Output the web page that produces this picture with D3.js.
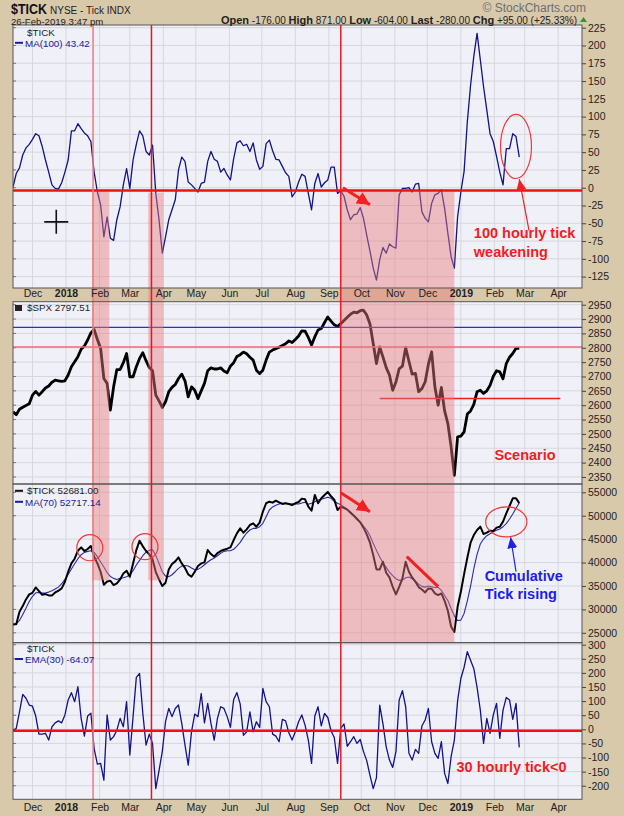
<!DOCTYPE html>
<html>
<head>
<meta charset="utf-8">
<script src="https://cdn.jsdelivr.net/npm/d3@7"></script>
<style>
  body { margin: 0; background: #d9c9ab; }
  svg { display: block; font-family: "Liberation Sans", Arial, sans-serif; }
</style>
</head>
<body>
<div id="chart"></div>
<script>
// Page size
var W = 624, H = 816;

// One sample every 3 calendar days, starting here.
var startDate = "2017-11-13",
    stepDays = 3;

// $TICK, 100 hour moving average
var tickMA100 = [1, 20, 28, 46, 56, 61, 68, 76, 73, 58, 39, 22, 4, -1, -2, 7, 22, 39, 80, 80,
  90, 83, 77, 73, 65, 22, -6, -24, -69, -41, -71, -74, -45, -27, 4, 27, -1, 39, 61, 80,
  73, 51, 46, 60, -8, -45, -92, -69, -45, -31, -17, 25, 43, 37, 8, 4, -1, -6, 6, 8,
  37, 51, 40, 37, 22, 27, 18, 11, 41, 63, 66, 59, 61, 51, 63, 39, 26, 30, 62, 67,
  52, 40, 39, 30, 21, 16, -13, -6, 8, 19, 16, -8, -31, 6, 20, 1, 7, 11, 29, 29,
  -8, -4, -12, -31, -45, -38, -37, -28, -43, -67, -89, -113, -130, -101, -84, -92, -79, -83, -85, -10,
  -1, -1, 0, -6, 5, 6, -34, -43, -48, -22, -10, -8, -3, -29, -64, -97, -113, -41, -6, 23,
  93, 144, 185, 217, 180, 142, 109, 76, 65, 44, 22, 4, 55, 55, 76, 72, 43];

// S&P 500 hourly closes
var spx = [2577, 2567, 2586, 2593, 2599, 2605, 2635, 2648, 2635, 2647, 2660, 2667, 2680, 2687, 2685, 2683, 2685, 2705, 2734, 2751,
  2769, 2795, 2806, 2827, 2852, 2864, 2829, 2798, 2693, 2676, 2583, 2664, 2724, 2724, 2748, 2780, 2699, 2699, 2734, 2763,
  2783, 2755, 2731, 2720, 2635, 2615, 2592, 2612, 2647, 2662, 2672, 2693, 2708, 2685, 2629, 2664, 2652, 2623, 2650, 2676,
  2720, 2730, 2726, 2726, 2730, 2719, 2713, 2736, 2748, 2770, 2776, 2785, 2779, 2767, 2757, 2722, 2710, 2722, 2757, 2785,
  2792, 2797, 2802, 2808, 2814, 2824, 2818, 2829, 2841, 2859, 2858, 2836, 2810, 2838, 2862, 2867, 2888, 2907, 2893, 2880,
  2874, 2884, 2895, 2906, 2917, 2924, 2922, 2929, 2931, 2914, 2883, 2815, 2745, 2803, 2768, 2731, 2705, 2652, 2681, 2727,
  2736, 2801, 2753, 2708, 2711, 2647, 2658, 2681, 2743, 2786, 2664, 2600, 2662, 2580, 2536, 2455, 2356, 2490, 2492, 2507,
  2569, 2580, 2603, 2647, 2652, 2641, 2650, 2669, 2701, 2720, 2716, 2692, 2745, 2767, 2780, 2798, 2798];

// Cumulative $TICK
var cumTick = [26850, 26850, 29490, 30700, 32130, 33200, 33550, 34690, 33910, 33120, 33270, 32980, 32980, 33620, 33980, 34480, 35900, 38040, 39820, 40820,
  42530, 43240, 42460, 42890, 43530, 41250, 39820, 38040, 35260, 35970, 36120, 35190, 35550, 36400, 37680, 38250, 36970, 39820, 42670, 44670,
  43460, 42460, 41750, 40680, 37970, 36400, 34980, 35690, 38540, 39680, 40250, 41100, 39820, 38830, 37470, 36970, 38040, 39250, 39820, 40040,
  42670, 41820, 41250, 42030, 42460, 42740, 42960, 43240, 44810, 46240, 47300, 46380, 47090, 48020, 48370, 47660, 48520, 50870, 52660, 53000,
  52790, 53220, 52860, 52510, 52660, 52510, 52290, 52660, 52930, 53650, 53500, 51940, 51080, 54430, 52660, 53720, 54430, 55070, 54150, 53430,
  51220, 51940, 51650, 51300, 50650, 50010, 49300, 48590, 47450, 46020, 44240, 41600, 38540, 38540, 40180, 37830, 36830, 34830, 33200, 34830,
  36620, 40180, 38040, 36830, 35900, 34760, 34260, 33620, 34480, 34410, 33410, 33050, 33410, 31840, 29700, 26280, 25200, 30560, 33770, 37540,
  41030, 44240, 45880, 46950, 47660, 46090, 46380, 46810, 46730, 47450, 47660, 48730, 50510, 52080, 53720, 53720, 52681];

// Cumulative $TICK, 70 hour moving average
var cumTickMA70 = [26640, 26920, 27640, 28920, 30270, 31700, 32770, 33550, 33620, 33480, 33480, 33690, 33980, 34340, 34760, 35480, 36400, 37470, 38610, 39750,
  40820, 41680, 42170, 42390, 42530, 42170, 41250, 40110, 39040, 37830, 37040, 36620, 36400, 36620, 36760, 36970, 37330, 38250, 39470, 40460,
  41460, 42250, 42600, 42740, 41530, 39820, 38040, 37110, 36970, 37400, 38040, 38750, 39250, 39390, 39250, 38830, 38470, 38540, 38970, 39540,
  40110, 40610, 40960, 41460, 41960, 42390, 42530, 42530, 42820, 43530, 44310, 45380, 46310, 46950, 47300, 47300, 47660, 48370, 49800, 51220,
  51870, 52220, 52510, 52660, 52660, 52510, 52510, 52510, 52510, 52720, 52860, 52440, 52660, 53000, 53360, 53500, 53720, 53930, 53720, 53080,
  52660, 52360, 51870, 51370, 50800, 50160, 49440, 48660, 47800, 46950, 45740, 44100, 42600, 41180, 39970, 38970, 37970, 37190, 36540, 36190,
  36260, 36760, 36900, 36540, 36050, 35400, 34910, 34760, 34980, 34830, 34690, 34690, 34050, 32980, 31910, 30200, 28630, 27640, 27710, 29130,
  31840, 34980, 38680, 41750, 43960, 45020, 45740, 46160, 46590, 46880, 47160, 47660, 48300, 49300, 50370, 51580, 52717];

// $TICK, 30 hour exponential moving average
var tickEMA30 = [-3, 3, 62, 124, 110, 86, 82, 47, -17, -17, -14, -38, 9, 23, 30, 23, 51, 104, 130, 98,
  151, 39, -24, 47, 57, -68, -123, -121, -180, 51, -38, -26, -3, 39, 9, 98, -91, 45, 184, 198,
  57, -56, -17, -50, -210, -146, -79, 27, 74, 45, 74, 86, 21, -56, -127, -9, 54, 45, 127, 23,
  92, 21, -38, 39, 80, 74, 45, 7, 106, 130, 90, -21, -9, 62, -9, 27, 7, 145, 98, 80,
  -17, -24, -44, 35, 30, -12, -38, -9, 27, 51, 15, -38, -121, 47, 80, 12, 56, 42, -5, -29,
  -121, 3, 19, -60, -44, -26, -50, -36, -79, -111, -163, -210, -171, 86, 19, -62, -109, -135, -79, 104,
  137, 80, -85, -109, -71, -85, 12, 33, 74, -44, -85, -103, -44, -156, -192, -97, -38, 101, 180, 220,
  275, 245, 215, 149, 68, -50, 39, -14, 51, 92, -32, 68, 113, 104, 35, 92, -64];

// Axis tick labels
var monthTicks = ["2017-12-01", "2018-01-01", "2018-02-01", "2018-03-01", "2018-04-01", "2018-05-01",
  "2018-06-01", "2018-07-01", "2018-08-01", "2018-09-01", "2018-10-01", "2018-11-01", "2018-12-01",
  "2019-01-01", "2019-02-01", "2019-03-01", "2019-04-01"];
var monthLabels = ["Dec", "2018", "Feb", "Mar", "Apr", "May", "Jun", "Jul", "Aug", "Sep", "Oct", "Nov", "Dec",
  "2019", "Feb", "Mar", "Apr"];
var tickMATicks = [-125, -100, -75, -50, -25, 0, 25, 50, 75, 100, 125, 150, 175, 200, 225];
var spxTicks = [2350, 2400, 2450, 2500, 2550, 2600, 2650, 2700, 2750, 2800, 2850, 2900, 2950];
var cumTickTicks = [25000, 30000, 35000, 40000, 45000, 50000, 55000];
var emaTicks = [-200, -150, -100, -50, 0, 50, 100, 150, 200, 250, 300];

// Shaded periods and marker lines
var shadeSpans = [["2018-01-25", "2018-02-10"], ["2018-03-18", "2018-04-01"], ["2018-09-11", "2018-12-26"]];
var markerDates = [["2018-01-26", "#f07a7a"], ["2018-03-21", "#e8141e"], ["2018-09-12", "#ee1c24"]];

var parse = d3.timeParse("%Y-%m-%d");
var dates = tickMA100.map(function (d, i) {
  return d3.timeDay.offset(parse(startDate), i * stepDays);
});

var svg = d3.select("#chart").append("svg")
  .attr("width", W)
  .attr("height", H);

svg.append("rect").attr("width", W).attr("height", H).attr("fill", "#d9c9ab");

var defs = svg.append("defs");

function marker(id, color, len, half) {
  defs.append("marker")
    .attr("id", id)
    .attr("markerUnits", "userSpaceOnUse")
    .attr("viewBox", "0 0 " + len + " " + (half * 2))
    .attr("refX", len).attr("refY", half)
    .attr("markerWidth", len).attr("markerHeight", half * 2)
    .attr("orient", "auto")
    .append("path")
    .attr("d", "M0,0L" + len + "," + half + "L0," + (half * 2) + "Z")
    .attr("fill", color);
}
marker("headRed", "#f22020", 13, 6.5);
marker("headRedThin", "#f22020", 11, 5);
marker("headBlue", "#2020e8", 11, 5);

var left = 13, right = 582;
var x = d3.scaleTime()
  .domain([parse("2017-11-13"), parse("2019-04-23")])
  .range([left, right]);

// Panel frames: pixel extents and value ranges
var panels = [
  { top: 25, bottom: 288, domain: [-141, 228.8], ticks: tickMATicks },
  { top: 301.7, bottom: 484, domain: [2325.5, 2960.5], ticks: spxTicks },
  { top: 484, bottom: 642.7, domain: [22890, 56772], ticks: cumTickTicks },
  { top: 642.7, bottom: 799.3, domain: [-248, 307], ticks: emaTicks }
];
panels.forEach(function (p, k) {
  p.y = d3.scaleLinear().domain(p.domain).range([p.bottom, p.top]);
  defs.append("clipPath").attr("id", "clip" + k)
    .append("rect").attr("x", left).attr("y", p.top)
    .attr("width", right - left).attr("height", p.bottom - p.top);
});

var monthDates = monthTicks.map(parse);

// Backgrounds and grids
panels.forEach(function (p, k) {
  var g = svg.append("g");
  g.append("rect").attr("x", left).attr("y", p.top)
    .attr("width", right - left).attr("height", p.bottom - p.top)
    .attr("fill", "#f0f0f8");
  g.selectAll("line.h").data(p.ticks).enter().append("line")
    .attr("x1", left).attr("x2", right)
    .attr("y1", function (d) { return p.y(d); })
    .attr("y2", function (d) { return p.y(d); })
    .attr("stroke", "#d6d6dc").attr("stroke-width", 1);
  g.selectAll("line.v").data(monthDates).enter().append("line")
    .attr("x1", function (d) { return x(d); })
    .attr("x2", function (d) { return x(d); })
    .attr("y1", p.top).attr("y2", p.bottom)
    .attr("stroke", "#d6d6dc").attr("stroke-width", 1);
  // little ticks on the left edge
  g.selectAll("line.l").data(p.ticks).enter().append("line")
    .attr("x1", left).attr("x2", left + 3)
    .attr("y1", function (d) { return p.y(d); })
    .attr("y2", function (d) { return p.y(d); })
    .attr("stroke", "#777");
});

function drawLine(k, values, color, width) {
  var p = panels[k];
  var line = d3.line()
    .x(function (d, i) { return x(dates[i]); })
    .y(function (d) { return p.y(d); })
    .curve(d3.curveLinear);
  svg.append("path")
    .datum(values)
    .attr("clip-path", "url(#clip" + k + ")")
    .attr("d", line)
    .attr("fill", "none")
    .attr("stroke", color)
    .attr("stroke-width", width)
    .attr("stroke-linejoin", "round");
}

drawLine(0, tickMA100, "#12128a", 1.3);
drawLine(1, spx, "#000", 2.8);
drawLine(2, cumTickMA70, "#2a2aa6", 1.1);
drawLine(2, cumTick, "#000", 2);
drawLine(3, tickEMA30, "#12128a", 1.3);

// Horizontal reference lines
function hline(k, v, color, width, from, to) {
  var p = panels[k];
  svg.append("line")
    .attr("x1", from ? x(parse(from)) : left)
    .attr("x2", to ? x(parse(to)) : right)
    .attr("y1", p.y(v)).attr("y2", p.y(v))
    .attr("stroke", color).attr("stroke-width", width);
}
hline(1, 2871, "#2c2cd0", 1.2);
hline(1, 2803, "#f06a78", 1.5);
hline(1, 2623, "#f01c1c", 1.5, "2018-10-18", "2019-04-03");

// Shaded periods (drawn over the data, semi transparent)
var shadeTop = [
  [panels[0].y(-2), panels[0].y(-7), panels[0].y(-5)],
  [288, 288, 288],
  [484, 484, 484]
];
var shadeBottom = [
  [288, 288, 288],
  [484, 484, 484],
  [panels[2].y(36200), panels[2].y(36200), 642.7]
];
shadeSpans.forEach(function (s, j) {
  for (var k = 0; k < 3; k++) {
    svg.append("rect")
      .attr("x", x(parse(s[0])))
      .attr("width", x(parse(s[1])) - x(parse(s[0])))
      .attr("y", shadeTop[k][j])
      .attr("height", shadeBottom[k][j] - shadeTop[k][j])
      .attr("fill", "#e67c7c")
      .attr("opacity", 0.45);
  }
});

hline(0, -4, "#f01010", 2.5);
hline(3, -5, "#f01010", 2.5);

// Vertical marker lines
markerDates.forEach(function (m) {
  svg.append("line")
    .attr("x1", x(parse(m[0]))).attr("x2", x(parse(m[0])))
    .attr("y1", 25).attr("y2", 799.3)
    .attr("stroke", m[1]).attr("stroke-width", 1.5);
});

// Panel borders
panels.forEach(function (p) {
  svg.append("rect").attr("x", left).attr("y", p.top)
    .attr("width", right - left).attr("height", p.bottom - p.top)
    .attr("fill", "none").attr("stroke", "#555").attr("stroke-width", 1);
});

// Right value axes
panels.forEach(function (p, k) {
  var ax = svg.append("g")
    .attr("transform", "translate(" + right + ",0)")
    .call(d3.axisRight(p.y).tickValues(p.ticks).tickSize(4).tickPadding(2)
      .tickFormat(function (d) { return String(d); }));
  ax.select(".domain").remove();
  ax.selectAll("text").attr("font-size", 10.5).attr("fill", "#222")
    .attr("font-family", "'Liberation Sans', Arial, sans-serif");
  ax.selectAll("line").attr("stroke", "#444");
});

// Month axes (between panel 1 and 2, and at the bottom)
function monthAxis(yPos, pad) {
  var ax = svg.append("g")
    .attr("transform", "translate(0," + yPos + ")")
    .call(d3.axisBottom(x).tickValues(monthDates).tickSize(0).tickPadding(pad)
      .tickFormat(function (d, i) { return monthLabels[i]; }));
  ax.select(".domain").remove();
  ax.selectAll("text")
    .attr("font-size", 10.5).attr("fill", "#222")
    .attr("font-family", "'Liberation Sans', Arial, sans-serif")
    .attr("font-weight", function (d, i) { return /^\d/.test(monthLabels[i]) ? "bold" : "normal"; });
}
monthAxis(288, 2);
monthAxis(799.3, 4.5);

// Header
svg.append("text").attr("x", 11).attr("y", 14)
  .attr("font-size", 14).attr("font-weight", "bold").attr("fill", "#111")
  .attr("textLength", 36).attr("lengthAdjust", "spacingAndGlyphs").text("$TICK");
svg.append("text").attr("x", 50).attr("y", 13.5)
  .attr("font-size", 10).attr("fill", "#222").text("NYSE - Tick INDX");
svg.append("text").attr("x", 586).attr("y", 11.5).attr("text-anchor", "end")
  .attr("font-size", 12).attr("fill", "#6e6e6e").text("\u00a9 StockCharts.com");
svg.append("text").attr("x", 11).attr("y", 24.5)
  .attr("font-size", 9.6).attr("fill", "#222").text("26-Feb-2019 3:47 pm");

var quote = [["Open", " -176.00  "], ["High", " 871.00  "], ["Low", " -604.00  "],
  ["Last", " -280.00  "], ["Chg", " +95.00 (+25.33%)"]];
var qt = svg.append("text").attr("x", 577).attr("y", 24).attr("text-anchor", "end")
  .attr("font-size", 10).attr("fill", "#222");
quote.forEach(function (q) {
  qt.append("tspan").attr("font-weight", "bold").attr("font-size", 11).text(q[0]);
  qt.append("tspan").text(q[1]);
});
svg.append("path").attr("d", "M580,22L583.5,17L587,22Z").attr("fill", "#2e9a2e");

// Legends
function legendText(xp, yp, txt, color) {
  svg.append("text").attr("x", xp).attr("y", yp)
    .attr("font-size", 9.8).attr("fill", color).text(txt);
}
function legendDash(yp, color) {
  svg.append("line").attr("x1", 15).attr("x2", 23).attr("y1", yp).attr("y2", yp)
    .attr("stroke", color).attr("stroke-width", 2);
}
legendText(27, 35.5, "$TICK", "#222");
legendDash(42.8, "#1a1a9a");
legendText(25, 46.5, "MA(100) 43.42", "#1a1a9a");

svg.append("rect").attr("x", 15).attr("y", 305).attr("width", 7).attr("height", 6).attr("fill", "#222");
legendText(27, 311, "$SPX 2797.51", "#222");

legendDash(490.8, "#111");
legendText(27, 494, "$TICK 52681.00", "#222");
legendDash(501.8, "#1a1a9a");
legendText(25, 505.5, "MA(70) 52717.14", "#1a1a9a");

legendText(27, 652, "$TICK", "#222");
legendDash(659, "#1a1a9a");
legendText(25, 663, "EMA(30) -64.07", "#1a1a9a");

// Annotations, placed in data coordinates
var arrowNotes = [
  { panel: 0, from: ["2018-09-14", 0], to: ["2018-10-09", -24], color: "#f22020", width: 3, head: "headRed" },
  { panel: 0, from: ["2019-03-05", -60], to: ["2019-02-24", 12], color: "#f22020", width: 1.2, head: "headRedThin" },
  { panel: 2, from: ["2018-09-12", 54900], to: ["2018-10-09", 50860], color: "#f22020", width: 3, head: "headRed" },
  { panel: 2, from: ["2018-11-12", 41250], to: ["2018-12-11", 34850], color: "#f22020", width: 3, head: null },
  { panel: 2, from: ["2019-02-21", 38050], to: ["2019-02-16", 45400], color: "#2020e8", width: 1.2, head: "headBlue" }
];
arrowNotes.forEach(function (a) {
  var p = panels[a.panel];
  var ln = svg.append("line")
    .attr("x1", x(parse(a.from[0]))).attr("y1", p.y(a.from[1]))
    .attr("x2", x(parse(a.to[0]))).attr("y2", p.y(a.to[1]))
    .attr("stroke", a.color).attr("stroke-width", a.width);
  if (a.head) ln.attr("marker-end", "url(#" + a.head + ")");
});

// ellipse: centre date, centre value, half width in days, half height in value units
var ellipseNotes = [
  { panel: 0, date: "2019-02-21", value: 58, days: 14.3, units: 45 },
  { panel: 2, date: "2019-02-12", value: 48700, days: 19.1, units: 3200 },
  { panel: 2, date: "2018-01-23", value: 43170, days: 12, units: 2780 },
  { panel: 2, date: "2018-03-15", value: 43390, days: 12, units: 2780 }
];
ellipseNotes.forEach(function (e) {
  var p = panels[e.panel];
  var cx = x(parse(e.date));
  svg.append("ellipse")
    .attr("cx", cx).attr("cy", p.y(e.value))
    .attr("rx", x(d3.timeHour.offset(parse(e.date), e.days * 24)) - cx)
    .attr("ry", p.y(e.value) - p.y(e.value + e.units))
    .attr("fill", "none").attr("stroke", "#f03838").attr("stroke-width", 1.2);
});

var textNotes = [
  { panel: 0, date: "2019-01-13", value: -70.7, text: "100 hourly tick", color: "#f41c1c" },
  { panel: 0, date: "2019-01-13", value: -97, text: "weakening", color: "#f41c1c" },
  { panel: 1, date: "2019-02-01", value: 2408, text: "Scenario", color: "#f41c1c" },
  { panel: 2, date: "2019-01-23", value: 36060, text: "Cumulative", color: "#1c1cee" },
  { panel: 2, date: "2019-01-23", value: 32220, text: "Tick rising", color: "#1c1cee" },
  { panel: 3, date: "2018-12-28", value: -150, text: "30 hourly tick<0", color: "#f41c1c" }
];
textNotes.forEach(function (t) {
  svg.append("text")
    .attr("x", x(parse(t.date))).attr("y", panels[t.panel].y(t.value))
    .attr("font-size", 14.5).attr("font-weight", "bold")
    .attr("font-family", "'Liberation Sans', Arial, sans-serif")
    .attr("fill", t.color).text(t.text);
});

// Cursor cross left in the first panel
var crossX = x(parse("2017-12-23")), crossY = panels[0].y(-48);
svg.append("path")
  .attr("d", "M" + (crossX - 12) + "," + crossY + "H" + (crossX + 12) +
    "M" + crossX + "," + (crossY - 12) + "V" + (crossY + 12))
  .attr("stroke", "#111").attr("stroke-width", 1.6);
</script>
</body>
</html>
